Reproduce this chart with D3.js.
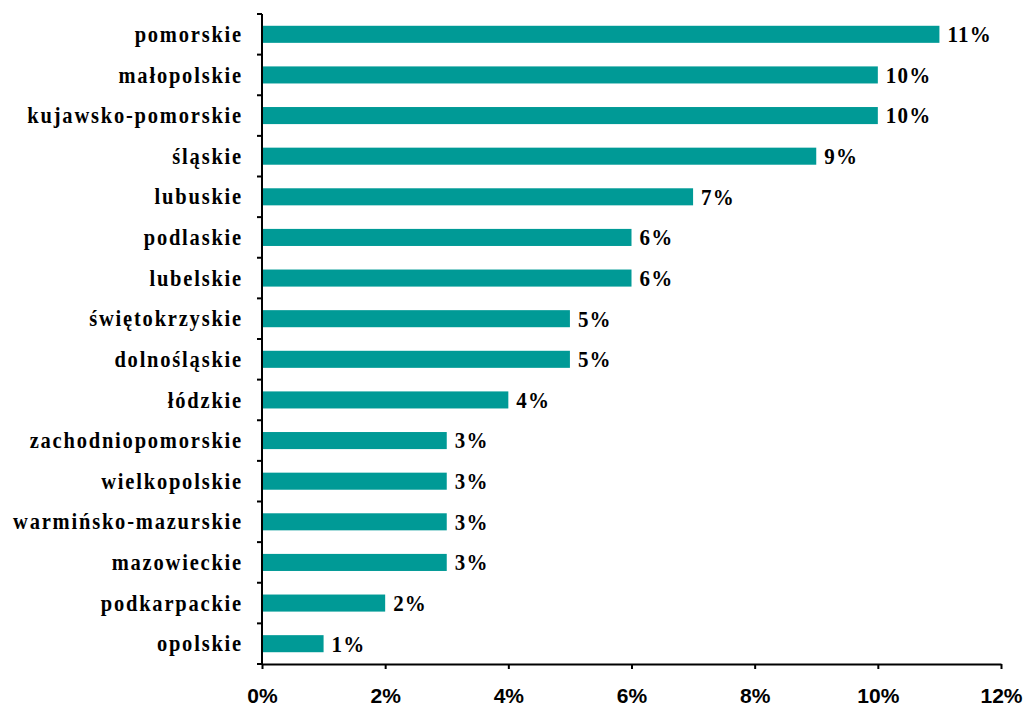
<!DOCTYPE html>
<html>
<head>
<meta charset="utf-8">
<script src="https://cdn.jsdelivr.net/npm/d3@7"></script>
<style>
  html, body { margin: 0; padding: 0; background: #fff; }
  svg { display: block; }
</style>
</head>
<body>
<svg id="chart" width="1027" height="708"></svg>
<script>
// Share of respondents by voivodeship (percent)
const regions = [
  "pomorskie", "małopolskie", "kujawsko-pomorskie", "śląskie", "lubuskie",
  "podlaskie", "lubelskie", "świętokrzyskie", "dolnośląskie", "łódzkie",
  "zachodniopomorskie", "wielkopolskie", "warmińsko-mazurskie", "mazowieckie",
  "podkarpackie", "opolskie"
];
const shares = [11, 10, 10, 9, 7, 6, 6, 5, 5, 4, 3, 3, 3, 3, 2, 1];
const xTicks = [0, 2, 4, 6, 8, 10, 12];

const svg = d3.select("#chart");
const plotLeft = 262, plotRight = 1001, plotTop = 14, plotBottom = 664;
const serif = "'Liberation Serif', 'Times New Roman', serif";
const tall = 1.1; // serif labels are drawn slightly taller than wide

const x = d3.scaleLinear().domain([0, 12]).range([plotLeft, plotRight]);
const y = d3.scaleBand().domain(regions).range([plotTop, plotBottom]).paddingInner(0.58).paddingOuter(0.29);
const band = d3.scaleBand().domain(regions).range([plotTop, plotBottom]);

// bars
svg.append("g").selectAll("rect")
  .data(regions)
  .join("rect")
  .attr("x", x(0))
  .attr("y", d => y(d))
  .attr("width", (d, i) => x(shares[i]) - x(0))
  .attr("height", y.bandwidth())
  .attr("fill", "#009a96");

// value labels
svg.append("g").selectAll("text")
  .data(regions)
  .join("text")
  .attr("transform", (d, i) => `translate(${x(shares[i]) + 8},${y(d) + y.bandwidth() / 2}) scale(1,${tall})`)
  .attr("dy", "0.34em")
  .attr("font-family", serif)
  .attr("font-weight", "bold")
  .attr("font-size", "21px")
  .attr("letter-spacing", "1.2px")
  .attr("fill", "#000")
  .text((d, i) => shares[i] + "%");

// category axis: tick marks at band boundaries
const yAxis = svg.append("g");
yAxis.append("line")
  .attr("x1", plotLeft).attr("x2", plotLeft)
  .attr("y1", plotTop).attr("y2", plotBottom)
  .attr("stroke", "#000").attr("stroke-width", 2);
yAxis.selectAll("line.tick")
  .data(regions.concat([null]))
  .join("line")
  .attr("class", "tick")
  .attr("x1", plotLeft - 5).attr("x2", plotLeft)
  .attr("y1", (d, i) => i < regions.length ? band(d) : plotBottom)
  .attr("y2", (d, i) => i < regions.length ? band(d) : plotBottom)
  .attr("stroke", "#000").attr("stroke-width", 2);
yAxis.selectAll("text")
  .data(regions)
  .join("text")
  .attr("transform", d => `translate(${plotLeft - 19},${band(d) + band.bandwidth() / 2}) scale(1,${tall})`)
  .attr("dy", "0.34em")
  .attr("text-anchor", "end")
  .attr("font-family", serif)
  .attr("font-weight", "bold")
  .attr("font-size", "20.5px")
  .attr("letter-spacing", "1.8px")
  .attr("fill", "#000")
  .text(d => d);

// value axis
const xAxis = svg.append("g")
  .attr("transform", `translate(0,${plotBottom})`)
  .call(d3.axisBottom(x).tickValues(xTicks).tickSize(5).tickSizeOuter(0).tickFormat(d => d + "%"));
xAxis.select(".domain").attr("stroke", "#000").attr("stroke-width", 2);
xAxis.selectAll(".tick line").attr("stroke", "#000").attr("stroke-width", 2);
xAxis.selectAll(".tick text")
  .attr("y", 39)
  .attr("dy", "0")
  .attr("font-family", "'Liberation Sans', Arial, sans-serif")
  .attr("font-weight", "bold")
  .attr("font-size", "21px")
  .attr("fill", "#000");
</script>
</body>
</html>
